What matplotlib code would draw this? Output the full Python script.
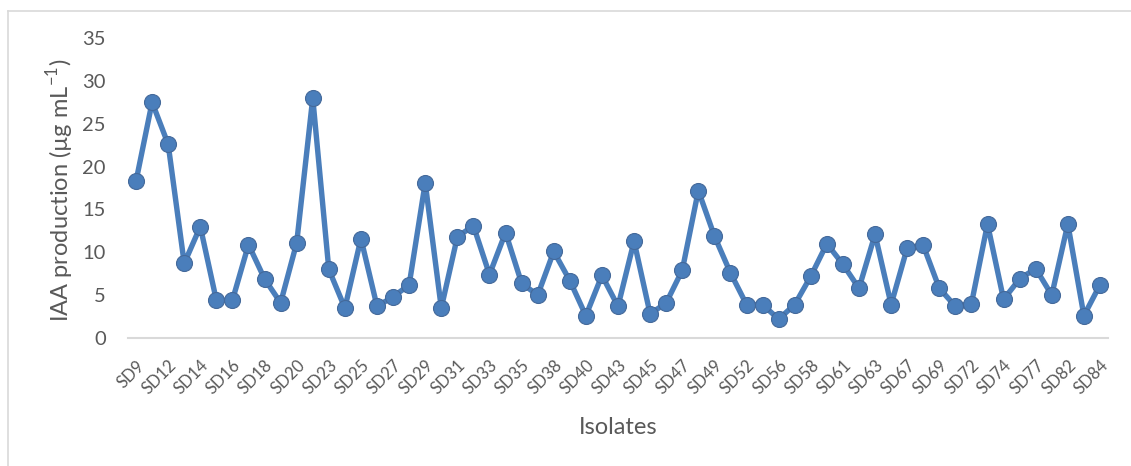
import matplotlib
matplotlib.use("Agg")
import matplotlib.pyplot as plt
from matplotlib.lines import Line2D
import numpy as np

plt.rcParams['font.family'] = ['Lato', 'DejaVu Sans']
plt.rcParams['mathtext.fontset'] = 'custom'
plt.rcParams['mathtext.rm'] = 'Lato'

# every other isolate is labelled on the axis
labels = ["SD9", "SD12", "SD14", "SD16", "SD18", "SD20", "SD23", "SD25", "SD27",
          "SD29", "SD31", "SD33", "SD35", "SD38", "SD40", "SD43", "SD45", "SD47",
          "SD49", "SD52", "SD56", "SD58", "SD61", "SD63", "SD67", "SD69", "SD72",
          "SD74", "SD77", "SD82", "SD84"]

# IAA production values (ug/mL)
iaa = [18.3, 27.5, 22.6, 8.7, 13.0, 4.4, 4.4, 10.9, 6.9, 4.1,
       11.1, 28.0, 8.0, 3.5, 11.6, 3.7, 4.8, 6.2, 18.1, 3.5,
       11.8, 13.1, 7.4, 12.3, 6.4, 5.0, 10.1, 6.7, 2.6, 7.3,
       3.7, 11.3, 2.8, 4.1, 7.9, 17.2, 11.9, 7.6, 3.9, 3.9,
       2.2, 3.9, 7.2, 11.0, 8.6, 5.8, 12.1, 3.9, 10.5, 10.8,
       5.8, 3.7, 4.0, 13.3, 4.5, 6.9, 8.1, 5.0, 13.3, 2.6,
       6.2]

blue = "#4a7ebb"
grey_txt = "#595959"

W, H = 1131, 466
fig = plt.figure(figsize=(W / 100, H / 100), dpi=100)
ax = fig.add_axes([128 / W, 1 - 338 / H, 980 / W, 300 / H])

x = np.arange(len(iaa))
ax.plot(x, iaa, color=blue, lw=3.9, marker="o", ms=11.5,
        markerfacecolor=blue, markeredgecolor="#44699a", markeredgewidth=0.8,
        solid_joinstyle="round")

ax.set_xlim(-0.5, len(iaa) - 0.5)
ax.set_ylim(0, 35)
ax.set_yticks(np.arange(0, 36, 5))
ax.set_xticks(x[::2])
ax.set_xticklabels(labels, rotation=45, ha="right", rotation_mode="anchor")

for s in ["top", "right", "left"]:
    ax.spines[s].set_visible(False)
ax.spines["bottom"].set_color("#d9d9d9")
ax.spines["bottom"].set_linewidth(1.5)
ax.tick_params(axis="both", length=0, colors=grey_txt)
ax.tick_params(axis="y", labelsize=14.5, pad=16)
ax.tick_params(axis="x", labelsize=12, pad=14)

fig.text(60 / W, 1 - 190 / H, r"IAA production (µg mL$^{-1}$)", rotation=90,
         ha="center", va="center", fontsize=17, color=grey_txt)
fig.text(618 / W, 1 - 427 / H, "Isolates", ha="center", va="center",
         fontsize=17, color=grey_txt)

# chart frame (cropped on right and bottom)
fig.add_artist(Line2D([8 / W, 8 / W], [0, 1 - 11 / H], transform=fig.transFigure,
                      color="#d9d9d9", lw=1.2))
fig.add_artist(Line2D([8 / W, 1], [1 - 11 / H, 1 - 11 / H], transform=fig.transFigure,
                      color="#d9d9d9", lw=1.2))

fig.savefig("out.png", dpi=100)
